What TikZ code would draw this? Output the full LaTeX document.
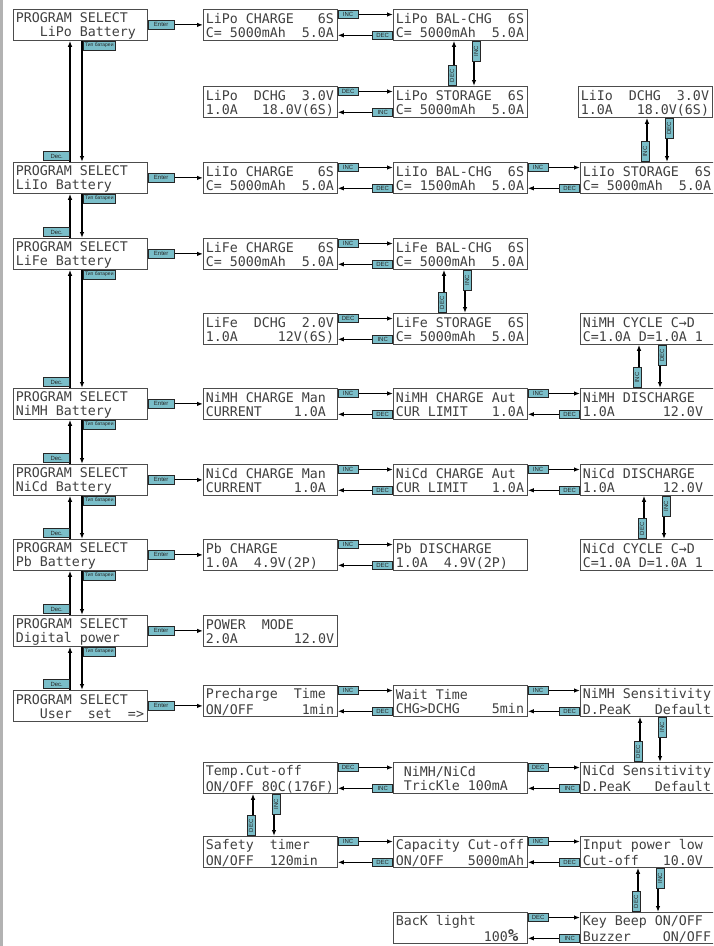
\documentclass[tikz,border=0pt]{standalone}
\usepackage{fontspec}
\usepackage{tikz}
\usetikzlibrary{arrows.meta}
\newfontfamily\lcdfam{DejaVu Sans Mono}
\newfontfamily\tagfam{Liberation Sans}
\definecolor{tagblue}{RGB}{122,190,201}
\newcommand\lcdfont{\lcdfam\fontsize{13.3}{14.3}\selectfont}
\newcommand\tagfont{\tagfam\fontsize{6}{6}\selectfont}
\newcommand\lcd[2]{\spaceskip=0pt\xspaceskip=0pt\relax
  \rule[-1.8pt]{0pt}{14.3pt}#1\\\rule[-1.8pt]{0pt}{14.3pt}#2}

\begin{document}
\begin{tikzpicture}[x=1pt, y=-1pt,
    lcd/.style={draw=black!70, line width=0.8pt, fill=white, anchor=north west,
                minimum width=134pt, minimum height=31pt, inner xsep=2.5pt,
                inner ysep=0pt, text width=129pt, align=left, font=\lcdfont,
                text=black!75},
    tag/.style={draw=black!85, line width=0.6pt, fill=tagblue, inner sep=0.5pt,
                minimum width=20pt, minimum height=8pt, font=\tagfont, text=black!85},
    vtag/.style={tag, rotate=90},
    enter/.style={tag, minimum width=26pt, minimum height=9pt},
    link/.style={-{Latex[length=6pt,width=4.5pt]}, line width=1.1pt}]
    \useasboundingbox (0,0) rectangle (713,946);
    \clip (0,0) rectangle (713,946);
    \fill[black!30] (0,0) rectangle (3,946);

    % program select column
    \node[lcd] (ps1) at (13,9)   {\lcd{PROGRAM~SELECT}{~~~LiPo~Battery}};
    \node[lcd] (ps2) at (13,162) {\lcd{PROGRAM~SELECT}{LiIo~Battery}};
    \node[lcd] (ps3) at (13,238) {\lcd{PROGRAM~SELECT}{LiFe~Battery}};
    \node[lcd] (ps4) at (13,388) {\lcd{PROGRAM~SELECT}{NiMH~Battery}};
    \node[lcd] (ps5) at (13,464) {\lcd{PROGRAM~SELECT}{NiCd~Battery}};
    \node[lcd] (ps6) at (13,539) {\lcd{PROGRAM~SELECT}{Pb~Battery}};
    \node[lcd] (ps7) at (13,615) {\lcd{PROGRAM~SELECT}{Digital~power}};
    \node[lcd] (ps8) at (13,690) {\lcd{PROGRAM~SELECT}{~~~User~~set~~=>}};

    % second column
    \node[lcd] (lipoChg)   at (203,9)   {\lcd{LiPo~CHARGE~~~6S}{C=~5000mAh~~5.0A}};
    \node[lcd] (lipoDchg)  at (203,86)  {\lcd{LiPo~~DCHG~~3.0V}{1.0A~~~18.0V(6S)}};
    \node[lcd] (liioChg)   at (203,162) {\lcd{LiIo~CHARGE~~~6S}{C=~5000mAh~~5.0A}};
    \node[lcd] (lifeChg)   at (203,238) {\lcd{LiFe~CHARGE~~~6S}{C=~5000mAh~~5.0A}};
    \node[lcd] (lifeDchg)  at (203,313) {\lcd{LiFe~~DCHG~~2.0V}{1.0A~~~~~12V(6S)}};
    \node[lcd] (nimhMan)   at (203,388) {\lcd{NiMH~CHARGE~Man}{CURRENT~~~~1.0A}};
    \node[lcd] (nicdMan)   at (203,464) {\lcd{NiCd~CHARGE~Man}{CURRENT~~~~1.0A}};
    \node[lcd] (pbChg)     at (203,539) {\lcd{Pb~CHARGE}{1.0A~~4.9V(2P)}};
    \node[lcd] (power)     at (203,615) {\lcd{POWER~~MODE}{2.0A~~~~~~~12.0V}};
    \node[lcd] (precharge) at (203,685) {\lcd{Precharge~~Time}{ON/OFF~~~~~~1min}};
    \node[lcd] (temp)      at (203,762) {\lcd{Temp.Cut-off}{ON/OFF~80C(176F)}};
    \node[lcd] (safety)    at (203,836) {\lcd{Safety~~timer}{ON/OFF~~120min}};

    % third column
    \node[lcd] (lipoBal)   at (393,9)   {\lcd{LiPo~BAL-CHG~~6S}{C=~5000mAh~~5.0A}};
    \node[lcd] (lipoSto)   at (393,86)  {\lcd{LiPo~STORAGE~~6S}{C=~5000mAh~~5.0A}};
    \node[lcd] (liioBal)   at (393,162) {\lcd{LiIo~BAL-CHG~~6S}{C=~1500mAh~~5.0A}};
    \node[lcd] (lifeBal)   at (393,238) {\lcd{LiFe~BAL-CHG~~6S}{C=~5000mAh~~5.0A}};
    \node[lcd] (lifeSto)   at (393,313) {\lcd{LiFe~STORAGE~~6S}{C=~5000mAh~~5.0A}};
    \node[lcd] (nimhAut)   at (393,388) {\lcd{NiMH~CHARGE~Aut}{CUR~LIMIT~~~1.0A}};
    \node[lcd] (nicdAut)   at (393,464) {\lcd{NiCd~CHARGE~Aut}{CUR~LIMIT~~~1.0A}};
    \node[lcd] (pbDis)     at (393,539) {\lcd{Pb~DISCHARGE}{1.0A~~4.9V(2P)}};
    \node[lcd] (wait)      at (393,685) {\lcd{Wait~Time}{CHG>DCHG~~~~5min}};
    \node[lcd] (trickle)   at (393,762) {\lcd{~NiMH/NiCd}{~TricKle~100mA}};
    \node[lcd] (capacity)  at (393,836) {\lcd{Capacity~Cut-off}{ON/OFF~~~5000mAh}};
    \node[lcd] (backlight) at (393,912) {\lcd{BacK~light}{~~~~~~~~~~~100{\fontsize{17}{14}\selectfont\bfseries\%}}};

    % fourth column
    \node[lcd] (liioDchg)  at (578,86)  {\lcd{LiIo~~DCHG~~3.0V}{1.0A~~~18.0V(6S)}};
    \node[lcd] (liioSto)   at (580,162) {\lcd{LiIo~STORAGE~~6S}{C=~5000mAh~~5.0A}};
    \node[lcd] (nimhCyc)   at (580,313) {\lcd{NiMH~CYCLE~C→D}{C=1.0A~D=1.0A~1}};
    \node[lcd] (nimhDis)   at (580,388) {\lcd{NiMH~DISCHARGE}{1.0A~~~~~~12.0V}};
    \node[lcd] (nicdDis)   at (580,464) {\lcd{NiCd~DISCHARGE}{1.0A~~~~~~12.0V}};
    \node[lcd] (nicdCyc)   at (580,539) {\lcd{NiCd~CYCLE~C→D}{C=1.0A~D=1.0A~1}};
    \node[lcd] (nimhSens)  at (580,685) {\lcd{NiMH~Sensitivity}{D.PeaK~~~Default}};
    \node[lcd] (nicdSens)  at (580,762) {\lcd{NiCd~Sensitivity}{D.PeaK~~~Default}};
    \node[lcd] (input)     at (580,836) {\lcd{Input~power~low}{Cut-off~~~10.0V}};
    \node[lcd] (keybeep)   at (580,912) {\lcd{Key~Beep~ON/OFF}{Buzzer~~~~ON/OFF}};

    % enter arrows
    \draw[link] (ps1.east) -- (ps1.east -| lipoChg.west) node[enter, pos=0, anchor=west] {Enter};
    \draw[link] (ps2.east) -- (ps2.east -| liioChg.west) node[enter, pos=0, anchor=west] {Enter};
    \draw[link] (ps3.east) -- (ps3.east -| lifeChg.west) node[enter, pos=0, anchor=west] {Enter};
    \draw[link] (ps4.east) -- (ps4.east -| nimhMan.west) node[enter, pos=0, anchor=west] {Enter};
    \draw[link] (ps5.east) -- (ps5.east -| nicdMan.west) node[enter, pos=0, anchor=west] {Enter};
    \draw[link] (ps6.east) -- (ps6.east -| pbChg.west) node[enter, pos=0, anchor=west] {Enter};
    \draw[link] (ps7.east) -- (ps7.east -| power.west) node[enter, pos=0, anchor=west] {Enter};
    \draw[link] (ps8.east) -- (ps8.east -| precharge.west) node[enter, pos=0, anchor=west] {Enter};

    % battery type chain
    \draw[link] ([xshift=69pt]ps1.south west) -- ([xshift=69pt]ps2.north west)
      node[enter, pos=0, anchor=north west, xshift=1pt, minimum width=32pt, font=\tagfam\fontsize{5}{5}\selectfont] {Тип батареи};
    \draw[link] ([xshift=57pt]ps2.north west) -- ([xshift=57pt]ps1.south west)
      node[enter, pos=0, anchor=south east, yshift=1pt] {Dec.};
    \draw[link] ([xshift=69pt]ps2.south west) -- ([xshift=69pt]ps3.north west)
      node[enter, pos=0, anchor=north west, xshift=1pt, minimum width=32pt, font=\tagfam\fontsize{5}{5}\selectfont] {Тип батареи};
    \draw[link] ([xshift=57pt]ps3.north west) -- ([xshift=57pt]ps2.south west)
      node[enter, pos=0, anchor=south east, yshift=1pt] {Dec.};
    \draw[link] ([xshift=69pt]ps3.south west) -- ([xshift=69pt]ps4.north west)
      node[enter, pos=0, anchor=north west, xshift=1pt, minimum width=32pt, font=\tagfam\fontsize{5}{5}\selectfont] {Тип батареи};
    \draw[link] ([xshift=57pt]ps4.north west) -- ([xshift=57pt]ps3.south west)
      node[enter, pos=0, anchor=south east, yshift=1pt] {Dec.};
    \draw[link] ([xshift=69pt]ps4.south west) -- ([xshift=69pt]ps5.north west)
      node[enter, pos=0, anchor=north west, xshift=1pt, minimum width=32pt, font=\tagfam\fontsize{5}{5}\selectfont] {Тип батареи};
    \draw[link] ([xshift=57pt]ps5.north west) -- ([xshift=57pt]ps4.south west)
      node[enter, pos=0, anchor=south east, yshift=1pt] {Dec.};
    \draw[link] ([xshift=69pt]ps5.south west) -- ([xshift=69pt]ps6.north west)
      node[enter, pos=0, anchor=north west, xshift=1pt, minimum width=32pt, font=\tagfam\fontsize{5}{5}\selectfont] {Тип батареи};
    \draw[link] ([xshift=57pt]ps6.north west) -- ([xshift=57pt]ps5.south west)
      node[enter, pos=0, anchor=south east, yshift=1pt] {Dec.};
    \draw[link] ([xshift=69pt]ps6.south west) -- ([xshift=69pt]ps7.north west)
      node[enter, pos=0, anchor=north west, xshift=1pt, minimum width=32pt, font=\tagfam\fontsize{5}{5}\selectfont] {Тип батареи};
    \draw[link] ([xshift=57pt]ps7.north west) -- ([xshift=57pt]ps6.south west)
      node[enter, pos=0, anchor=south east, yshift=1pt] {Dec.};
    \draw[link] ([xshift=69pt]ps7.south west) -- ([xshift=69pt]ps8.north west)
      node[enter, pos=0, anchor=north west, xshift=1pt, minimum width=32pt, font=\tagfam\fontsize{5}{5}\selectfont] {Тип батареи};
    \draw[link] ([xshift=57pt]ps8.north west) -- ([xshift=57pt]ps7.south west)
      node[enter, pos=0, anchor=south east, yshift=1pt] {Dec.};

    % horizontal pairs
    \draw[link] ([yshift=-5.5pt]lipoChg.north east) -- ([yshift=-5.5pt]lipoBal.north west) node[tag, pos=0, anchor=west] {INC};
    \draw[link] ([yshift=5.5pt]lipoBal.south west) -- ([yshift=5.5pt]lipoChg.south east) node[tag, pos=0, anchor=east] {DEC};
    \draw[link] ([yshift=-5.5pt]lipoDchg.north east) -- ([yshift=-5.5pt]lipoSto.north west) node[tag, pos=0, anchor=west] {DEC};
    \draw[link] ([yshift=5.5pt]lipoSto.south west) -- ([yshift=5.5pt]lipoDchg.south east) node[tag, pos=0, anchor=east] {INC};
    \draw[link] ([yshift=-5.5pt]liioChg.north east) -- ([yshift=-5.5pt]liioBal.north west) node[tag, pos=0, anchor=west] {INC};
    \draw[link] ([yshift=5.5pt]liioBal.south west) -- ([yshift=5.5pt]liioChg.south east) node[tag, pos=0, anchor=east] {DEC};
    \draw[link] ([yshift=-5.5pt]liioBal.north east) -- ([yshift=-5.5pt]liioSto.north west) node[tag, pos=0, anchor=west] {INC};
    \draw[link] ([yshift=5.5pt]liioSto.south west) -- ([yshift=5.5pt]liioBal.south east) node[tag, pos=0, anchor=east] {DEC};
    \draw[link] ([yshift=-5.5pt]lifeChg.north east) -- ([yshift=-5.5pt]lifeBal.north west) node[tag, pos=0, anchor=west] {INC};
    \draw[link] ([yshift=5.5pt]lifeBal.south west) -- ([yshift=5.5pt]lifeChg.south east) node[tag, pos=0, anchor=east] {DEC};
    \draw[link] ([yshift=-5.5pt]lifeDchg.north east) -- ([yshift=-5.5pt]lifeSto.north west) node[tag, pos=0, anchor=west] {DEC};
    \draw[link] ([yshift=5.5pt]lifeSto.south west) -- ([yshift=5.5pt]lifeDchg.south east) node[tag, pos=0, anchor=east] {INC};
    \draw[link] ([yshift=-5.5pt]nimhMan.north east) -- ([yshift=-5.5pt]nimhAut.north west) node[tag, pos=0, anchor=west] {INC};
    \draw[link] ([yshift=5.5pt]nimhAut.south west) -- ([yshift=5.5pt]nimhMan.south east) node[tag, pos=0, anchor=east] {DEC};
    \draw[link] ([yshift=-5.5pt]nimhAut.north east) -- ([yshift=-5.5pt]nimhDis.north west) node[tag, pos=0, anchor=west] {INC};
    \draw[link] ([yshift=5.5pt]nimhDis.south west) -- ([yshift=5.5pt]nimhAut.south east) node[tag, pos=0, anchor=east] {DEC};
    \draw[link] ([yshift=-5.5pt]nicdMan.north east) -- ([yshift=-5.5pt]nicdAut.north west) node[tag, pos=0, anchor=west] {INC};
    \draw[link] ([yshift=5.5pt]nicdAut.south west) -- ([yshift=5.5pt]nicdMan.south east) node[tag, pos=0, anchor=east] {DEC};
    \draw[link] ([yshift=-5.5pt]nicdAut.north east) -- ([yshift=-5.5pt]nicdDis.north west) node[tag, pos=0, anchor=west] {INC};
    \draw[link] ([yshift=5.5pt]nicdDis.south west) -- ([yshift=5.5pt]nicdAut.south east) node[tag, pos=0, anchor=east] {DEC};
    \draw[link] ([yshift=-5.5pt]pbChg.north east) -- ([yshift=-5.5pt]pbDis.north west) node[tag, pos=0, anchor=west] {INC};
    \draw[link] ([yshift=5.5pt]pbDis.south west) -- ([yshift=5.5pt]pbChg.south east) node[tag, pos=0, anchor=east] {DEC};
    \draw[link] ([yshift=-5.5pt]precharge.north east) -- ([yshift=-5.5pt]wait.north west) node[tag, pos=0, anchor=west] {INC};
    \draw[link] ([yshift=5.5pt]wait.south west) -- ([yshift=5.5pt]precharge.south east) node[tag, pos=0, anchor=east] {DEC};
    \draw[link] ([yshift=-5.5pt]wait.north east) -- ([yshift=-5.5pt]nimhSens.north west) node[tag, pos=0, anchor=west] {INC};
    \draw[link] ([yshift=5.5pt]nimhSens.south west) -- ([yshift=5.5pt]wait.south east) node[tag, pos=0, anchor=east] {DEC};
    \draw[link] ([yshift=-5.5pt]temp.north east) -- ([yshift=-5.5pt]trickle.north west) node[tag, pos=0, anchor=west] {DEC};
    \draw[link] ([yshift=5.5pt]trickle.south west) -- ([yshift=5.5pt]temp.south east) node[tag, pos=0, anchor=east] {INC};
    \draw[link] ([yshift=-5.5pt]trickle.north east) -- ([yshift=-5.5pt]nicdSens.north west) node[tag, pos=0, anchor=west] {DEC};
    \draw[link] ([yshift=5.5pt]nicdSens.south west) -- ([yshift=5.5pt]trickle.south east) node[tag, pos=0, anchor=east] {INC};
    \draw[link] ([yshift=-5.5pt]safety.north east) -- ([yshift=-5.5pt]capacity.north west) node[tag, pos=0, anchor=west] {INC};
    \draw[link] ([yshift=5.5pt]capacity.south west) -- ([yshift=5.5pt]safety.south east) node[tag, pos=0, anchor=east] {DEC};
    \draw[link] ([yshift=-5.5pt]capacity.north east) -- ([yshift=-5.5pt]input.north west) node[tag, pos=0, anchor=west] {INC};
    \draw[link] ([yshift=5.5pt]input.south west) -- ([yshift=5.5pt]capacity.south east) node[tag, pos=0, anchor=east] {DEC};
    \draw[link] ([yshift=-5.5pt]backlight.north east) -- ([yshift=-5.5pt]keybeep.north west) node[tag, pos=0, anchor=west] {DEC};
    \draw[link] ([yshift=5.5pt]keybeep.south west) -- ([yshift=5.5pt]backlight.south east) node[tag, pos=0, anchor=east] {INC};

    % vertical pairs
    \draw[link] ([xshift=81pt]lipoBal.south west) -- ([xshift=81pt]lipoSto.north west) node[vtag, pos=0, anchor=east, yshift=-2pt] {INC};
    \draw[link] ([xshift=61pt]lipoSto.north west) -- ([xshift=61pt]lipoBal.south west) node[vtag, pos=0, anchor=west, yshift=2pt] {DEC};
    \draw[link] ([xshift=89pt]liioDchg.south west) -- ([xshift=87pt]liioSto.north west) node[vtag, pos=0, anchor=east, yshift=-2pt] {DEC};
    \draw[link] ([xshift=67pt]liioSto.north west) -- ([xshift=69pt]liioDchg.south west) node[vtag, pos=0, anchor=west, yshift=2pt] {INC};
    \draw[link] ([xshift=72pt]lifeBal.south west) -- ([xshift=72pt]lifeSto.north west) node[vtag, pos=0, anchor=east, yshift=-2pt] {INC};
    \draw[link] ([xshift=51pt]lifeSto.north west) -- ([xshift=51pt]lifeBal.south west) node[vtag, pos=0, anchor=west, yshift=2pt] {DEC};
    \draw[link] ([xshift=80pt]nimhCyc.south west) -- ([xshift=80pt]nimhDis.north west) node[vtag, pos=0, anchor=east, yshift=-2pt] {DEC};
    \draw[link] ([xshift=59pt]nimhDis.north west) -- ([xshift=59pt]nimhCyc.south west) node[vtag, pos=0, anchor=west, yshift=2pt] {INC};
    \draw[link] ([xshift=84pt]nicdDis.south west) -- ([xshift=84pt]nicdCyc.north west) node[vtag, pos=0, anchor=east, yshift=-2pt] {INC};
    \draw[link] ([xshift=64pt]nicdCyc.north west) -- ([xshift=64pt]nicdDis.south west) node[vtag, pos=0, anchor=west, yshift=2pt] {DEC};
    \draw[link] ([xshift=80pt]nimhSens.south west) -- ([xshift=80pt]nicdSens.north west) node[vtag, pos=0, anchor=east, yshift=-2pt] {INC};
    \draw[link] ([xshift=60pt]nicdSens.north west) -- ([xshift=60pt]nimhSens.south west) node[vtag, pos=0, anchor=west, yshift=2pt] {DEC};
    \draw[link] ([xshift=71pt]temp.south west) -- ([xshift=71pt]safety.north west) node[vtag, pos=0, anchor=east, yshift=-2pt] {INC};
    \draw[link] ([xshift=50pt]safety.north west) -- ([xshift=50pt]temp.south west) node[vtag, pos=0, anchor=west, yshift=2pt] {DEC};
    \draw[link] ([xshift=78pt]input.south west) -- ([xshift=78pt]keybeep.north west) node[vtag, pos=0, anchor=east, yshift=-2pt] {INC};
    \draw[link] ([xshift=58pt]keybeep.north west) -- ([xshift=58pt]input.south west) node[vtag, pos=0, anchor=west, yshift=2pt] {DEC};
\end{tikzpicture}
\end{document}
